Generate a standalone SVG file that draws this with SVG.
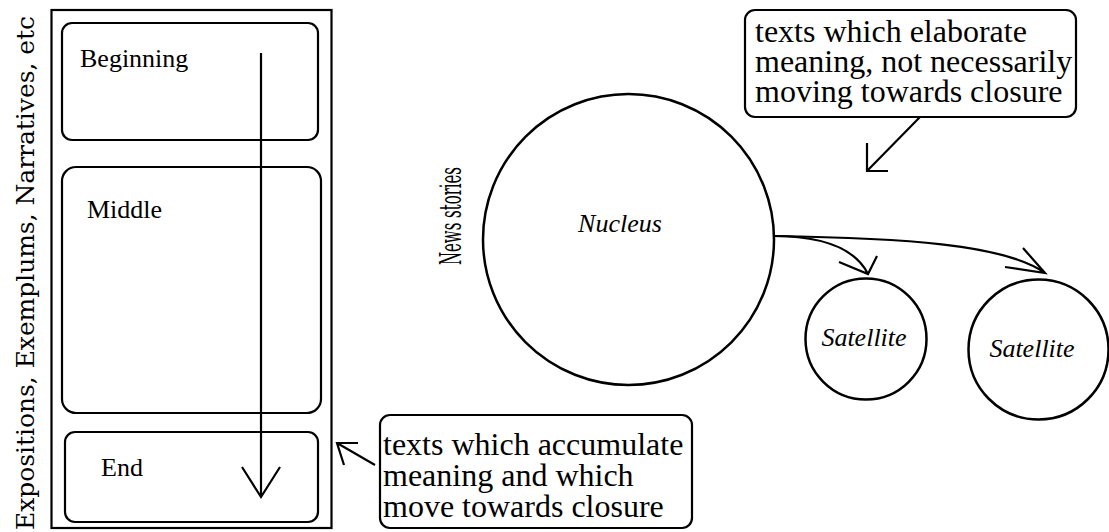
<svg xmlns="http://www.w3.org/2000/svg" width="1109" height="532" viewBox="0 0 1109 532">
<style>
.box{fill:none;stroke:#000;stroke-width:2.2}
.node{fill:#fff;stroke:#000;stroke-width:2.5}
.ln{fill:none;stroke:#000;stroke-width:2.2}
</style>
<rect width="1109" height="532" fill="#fff"/>
<g id="frame"><rect class="box" x="51.5" y="10" width="280" height="518"/></g>
<g id="beginning"><rect class="box" x="62" y="23" width="256" height="117" rx="10"/><text x="80" y="67" font-family="Liberation Serif" font-size="26" fill="#000">Beginning</text></g>
<g id="middle"><rect class="box" x="62" y="167" width="259" height="246" rx="14"/><text x="87" y="218" font-family="Liberation Serif" font-size="26" fill="#000">Middle</text></g>
<g id="end"><rect class="box" x="65" y="432" width="253" height="90" rx="10"/><text x="101" y="476" font-family="Liberation Serif" font-size="26" fill="#000">End</text></g>
<g id="nucleus"><circle class="node" cx="628.5" cy="239.5" r="145.5"/><text x="620" y="232" text-anchor="middle" font-family="Liberation Serif" font-size="26" font-style="italic" fill="#000">Nucleus</text></g>
<g id="satellite1"><circle class="node" cx="866" cy="339" r="60.5"/><text x="864" y="346" text-anchor="middle" font-family="Liberation Serif" font-size="26" font-style="italic" fill="#000">Satellite</text></g>
<g id="satellite2"><circle class="node" cx="1038.5" cy="349.5" r="70"/><text x="1032" y="357" text-anchor="middle" font-family="Liberation Serif" font-size="26" font-style="italic" fill="#000">Satellite</text></g>
<g id="callout-accumulate"><rect class="box" x="380" y="415" width="312" height="113" rx="10"/>
<text x="383" y="455" font-family="Liberation Serif" font-size="32" fill="#000">texts which accumulate</text>
<text x="383" y="486" font-family="Liberation Serif" font-size="32" fill="#000">meaning and which</text>
<text x="383" y="517" font-family="Liberation Serif" font-size="32" fill="#000">move towards closure</text></g>
<g id="callout-elaborate"><rect class="box" x="745" y="10" width="331" height="107" rx="10"/>
<text x="755" y="42" font-family="Liberation Serif" font-size="32" fill="#000">texts which elaborate</text>
<text x="755" y="72" font-family="Liberation Serif" font-size="32" fill="#000">meaning, not necessarily</text>
<text x="755" y="102" font-family="Liberation Serif" font-size="32" fill="#000">moving towards closure</text></g>
<g id="connectors">
<path class="ln" d="M261,53 V497 M242,467 L261,497 L280,467"/>
<path class="ln" d="M375,465 L337,443 M358,443 L337,443 L344,465"/>
<path class="ln" d="M920,117 L867,171 M867,143 V171 H888"/>
<path class="ln" d="M773,236 C825,236 856,250 868,274 M839,262 L868,274 L877,256"/>
<path class="ln" d="M773,236 C900,238 1005,244 1045,273 M1005,267 L1045,273 L1023,248"/>
</g>
<g id="side-label">
<text x="34" y="530" font-family="DejaVu Serif" font-size="25" fill="#000" textLength="514" lengthAdjust="spacingAndGlyphs" transform="rotate(-90 34 530)">Expositions, Exemplums, Narratives, etc</text>
</g>
<g id="news-label">
<text x="461" y="265" font-family="DejaVu Serif" font-size="29" fill="#000" textLength="98" lengthAdjust="spacingAndGlyphs" transform="rotate(-90 461 265)">News stories</text>
</g>
</svg>
